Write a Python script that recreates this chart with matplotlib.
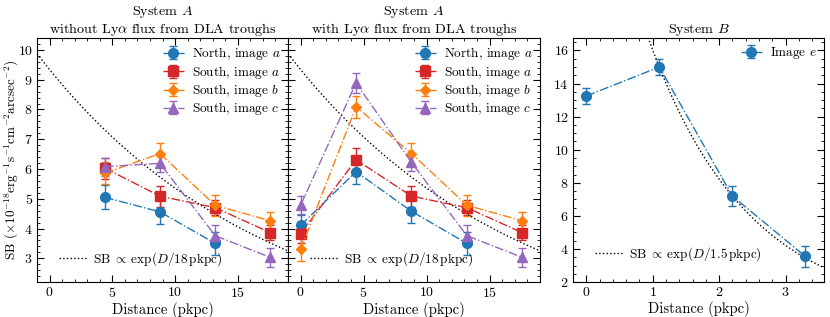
import numpy as np
import matplotlib
matplotlib.use('Agg')
import matplotlib.pyplot as plt
from matplotlib.ticker import MultipleLocator

plt.rcParams['font.family'] = 'serif'
plt.rcParams['font.serif'] = ['cmr10']
plt.rcParams['mathtext.fontset'] = 'cm'
plt.rcParams['axes.formatter.use_mathtext'] = True
plt.rcParams['font.size'] = 10
plt.rcParams['legend.fontsize'] = 9.5

# System A distances (pkpc)
dist_a = [0.0, 4.4, 8.8, 13.2, 17.6]

# System A, without Lya flux from DLA troughs (no point at D=0)
noflux_north_a = [np.nan, 5.05, 4.56, 3.50, np.nan]
noflux_north_a_err = [0, 0.40, 0.40, 0.40, 0]
noflux_south_a = [np.nan, 6.03, 5.09, 4.70, 3.86]
noflux_south_a_err = [0, 0.35, 0.35, 0.25, 0.25]
noflux_south_b = [np.nan, 5.86, 6.52, 4.78, 4.26]
noflux_south_b_err = [0, 0.37, 0.37, 0.35, 0.28]
noflux_south_c = [np.nan, 6.08, 6.19, 3.76, 3.03]
noflux_south_c_err = [0, 0.30, 0.30, 0.35, 0.33]

# System A, with Lya flux from DLA troughs
flux_north_a = [4.11, 5.91, 4.58, 3.50, np.nan]
flux_north_a_err = [0.35, 0.40, 0.40, 0.40, 0]
flux_south_a = [3.83, 6.31, 5.09, 4.70, 3.86]
flux_south_a_err = [0.30, 0.40, 0.35, 0.25, 0.25]
flux_south_b = [3.30, 8.09, 6.52, 4.78, 4.26]
flux_south_b_err = [0.38, 0.37, 0.37, 0.35, 0.28]
flux_south_c = [4.78, 8.89, 6.22, 3.76, 3.03]
flux_south_c_err = [0.30, 0.33, 0.30, 0.35, 0.33]

# System B
dist_b = [0.0, 1.1, 2.2, 3.3]
image_e = [13.25, 15.0, 7.2, 3.55]
image_e_err = [0.5, 0.48, 0.58, 0.65]

# exponential profiles
amp_a, scale_a = 9.34, 18.0
amp_b, scale_b = 31.2, 1.5

series_labels = ['North, image $a$', 'South, image $a$',
                 'South, image $b$', 'South, image $c$']
colors = ['#1f77b4', '#d62728', '#ff7f0e', '#9467bd']
markers = ['o', 's', 'D', '^']
msizes = [7, 7, 5.5, 7]

fig = plt.figure(figsize=(8.3, 3.17), dpi=100)
ax1 = fig.add_axes([0.0446, 0.110, 0.3024, 0.770])
ax2 = fig.add_axes([0.3470, 0.110, 0.3036, 0.770], sharey=ax1)
ax3 = fig.add_axes([0.6904, 0.110, 0.3024, 0.770])


def style_axis(ax):
    ax.tick_params(which='both', direction='in', top=True, right=True, pad=3)
    ax.tick_params(which='major', length=5)
    ax.tick_params(which='minor', length=2.5)


def draw_system_a(ax, vals, errs):
    handles = []
    for v, e, lab, c, m, ms in zip(vals, errs, series_labels, colors, markers, msizes):
        h = ax.errorbar(dist_a, v, yerr=e, color=c, marker=m, ms=ms, ls='-.',
                        lw=1, capsize=3, elinewidth=1, ecolor=c, label=lab)
        handles.append(h)
    d = np.linspace(-1, 19, 200)
    line, = ax.plot(d, amp_a * np.exp(-d / scale_a), ls=':', color='k', lw=1,
                    label=r'SB$\;\propto\;$exp($D/18\,$pkpc)')
    leg1 = ax.legend(handles=handles, loc='upper right', frameon=False,
                     handletextpad=0.6, borderaxespad=0.15, labelspacing=0.1,
                     handlelength=1.6, handleheight=0.6)
    ax.add_artist(leg1)
    ax.legend(handles=[line], loc='lower left', frameon=False,
              bbox_to_anchor=(0.04, 0.01), handlelength=2.2, handletextpad=0.4)
    ax.set_xlim(-1, 19)
    ax.xaxis.set_major_locator(MultipleLocator(5))
    ax.xaxis.set_minor_locator(MultipleLocator(1))
    ax.yaxis.set_major_locator(MultipleLocator(1))
    ax.yaxis.set_minor_locator(MultipleLocator(0.2))
    ax.set_xlabel('Distance (pkpc)', labelpad=1, fontsize=10.5)
    style_axis(ax)


draw_system_a(ax1, [noflux_north_a, noflux_south_a, noflux_south_b, noflux_south_c],
              [noflux_north_a_err, noflux_south_a_err, noflux_south_b_err, noflux_south_c_err])
draw_system_a(ax2, [flux_north_a, flux_south_a, flux_south_b, flux_south_c],
              [flux_north_a_err, flux_south_a_err, flux_south_b_err, flux_south_c_err])
ax1.set_ylim(2.2, 10.4)
ax1.set_ylabel(r'SB ($\times10^{-18}$erg$^{-1}$s$^{-1}$cm$^{-2}$arcsec$^{-2}$)',
               fontsize=9.5)
ax1.yaxis.set_label_coords(-0.062, 0.5)
ax1.set_title('System $A$\nwithout Ly$\\alpha$ flux from DLA troughs', fontsize=10.2, pad=3,
              linespacing=1.05)
ax2.set_title('System $A$\nwith Ly$\\alpha$ flux from DLA troughs', fontsize=10.2, pad=3,
              linespacing=1.05)
plt.setp(ax2.get_yticklabels(), visible=False)

# System B
hb = ax3.errorbar(dist_b, image_e, yerr=image_e_err, color=colors[0], marker='o',
                  ms=7, ls='-.', lw=1, capsize=3, elinewidth=1, label='Image $e$')
db = np.linspace(0, 3.6, 200)
lb, = ax3.plot(db, amp_b * np.exp(-db / scale_b), ls=':', color='k', lw=1,
               label=r'SB$\;\propto\;$exp($D/1.5\,$pkpc)')
leg3 = ax3.legend(handles=[hb], loc='upper right', frameon=False,
                  handletextpad=0.6, borderaxespad=0.15, handlelength=1.6,
                  handleheight=0.6)
ax3.add_artist(leg3)
ax3.legend(handles=[lb], loc='lower left', frameon=False,
           bbox_to_anchor=(0.04, 0.03), handlelength=2.2, handletextpad=0.4)
ax3.set_xlim(-0.2, 3.58)
ax3.set_ylim(2.0, 16.75)
ax3.xaxis.set_major_locator(MultipleLocator(1))
ax3.xaxis.set_minor_locator(MultipleLocator(0.2))
ax3.yaxis.set_major_locator(MultipleLocator(2))
ax3.yaxis.set_minor_locator(MultipleLocator(0.5))
ax3.set_xlabel('Distance (pkpc)', labelpad=1, fontsize=10.5)
ax3.set_title('System $B$', fontsize=10.2, pad=3)
style_axis(ax3)

fig.savefig('out.png', dpi=100)
